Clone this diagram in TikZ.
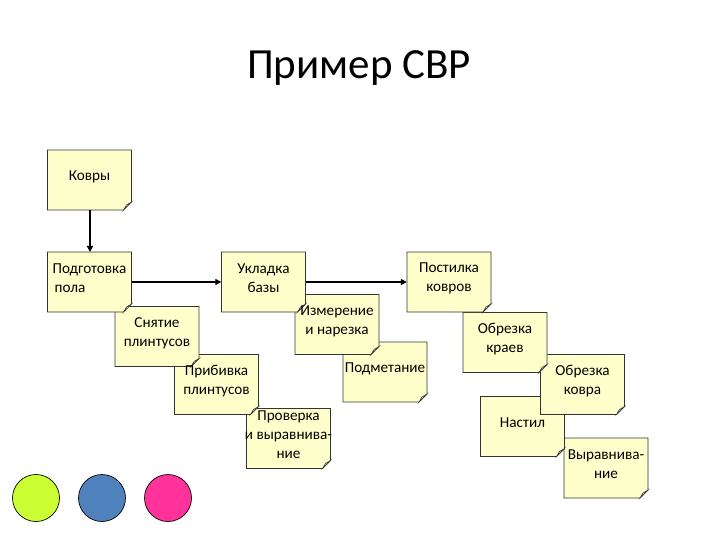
\documentclass[tikz,border=0pt]{standalone}
\usepackage{fontspec}
\setmainfont{Carlito}
\usepackage{tikz}
\usetikzlibrary{arrows.meta}
\definecolor{notefill}{HTML}{FFFFCC}
\definecolor{noteline}{HTML}{333333}
\definecolor{dotlime}{HTML}{CCFF33}
\definecolor{dotblue}{HTML}{4F81BD}
\definecolor{dotpink}{HTML}{FF3399}
\pgfdeclarelayer{background}
\pgfsetlayers{background,main}
\tikzset{
  note/.style={inner sep=0pt, minimum width=84bp, align=center,
               font=\fontsize{15.2bp}{19bp}\selectfont},
  notebox/.style={draw=noteline, fill=notefill, line width=0.7bp},
  notefold/.style={draw=noteline, fill=notefill!60!white, line width=0.6bp},
  arr/.style={-{Triangle[length=6bp,width=6bp]}, line width=1.8bp, draw=black},
  dot/.style={circle, draw=black, line width=0.7bp, fill=#1, minimum size=47bp, inner sep=0pt},
}

\begin{document}
\begin{tikzpicture}[x=1bp, y=-1bp]
\useasboundingbox (0,0) rectangle (720,540);
\node[font=\fontsize{43bp}{48bp}\selectfont, anchor=base] (title) at (359,79) {Пример СВР};
% tree of notes
\node[note] (kovry) at (89.5,176.5) {Ковры};
\node[note, align=left] (podg) at (89.5,278.5) {Подготовка\\\hspace{2bp}пола};
\node[note] (ukl) at (263.5,278.5) {Укладка\\базы};
\node[note] (post) at (449,278.5) {Постилка\\ковров};
\node[note] (snyat) at (157,333) {Снятие\\плинтусов};
\node[note] (pribivka) at (216.5,381) {Прибивка\\плинтусов};
\node[note] (proverka) at (288.5,435) {Проверка\\и выравнива-\\ние};
\node[note] (izmer) at (337,321) {Измерение\\и нарезка};
\node[note] (podmet) at (385,368.5) {Подметание};
\node[note] (obrkr) at (505,339) {Обрезка\\краев};
\node[note] (obrkov) at (582.5,381) {Обрезка\\ковра};
\node[note] (nastil) at (522.5,423) {Настил};
\node[note] (vyr) at (606,464.5) {Выравнива-\\ние};
% sticky paper under the texts
\begin{pgfonlayer}{background}
\foreach \n in {vyr,nastil,obrkov,obrkr,post,podmet,izmer,ukl,proverka,pribivka,snyat,podg,kovry} {
  \coordinate (nw) at ([shift={(-42bp,26.5bp)}]\n.center);
  \coordinate (se) at ([shift={(42bp,-33.5bp)}]\n.center);
  \filldraw[notebox] (nw) -- (nw -| se) -- ([yshift=8bp]se) -- ([xshift=-8bp]se) -- (nw |- se) -- cycle;
  \filldraw[notefold] ([yshift=8bp]se) -- ([xshift=-8bp]se) -- ([shift={(-5bp,5bp)}]se) -- cycle;
}
\end{pgfonlayer}
\draw[arr] ([shift={(0.5bp,-33.5bp)}]kovry.center) -- ([shift={(0.5bp,26.5bp)}]podg.center);
\draw[arr] ([yshift=-3.5bp]podg.east) -- ([yshift=-3.5bp]ukl.west);
\draw[arr] ([yshift=-3.5bp]ukl.east) -- ([yshift=-3.5bp]post.west);
% colour dots
\node[dot=dotlime] (dotA) at (36,498) {};
\node[dot=dotblue] (dotB) at (102,498) {};
\node[dot=dotpink] (dotC) at (168,498) {};
\end{tikzpicture}
\end{document}
